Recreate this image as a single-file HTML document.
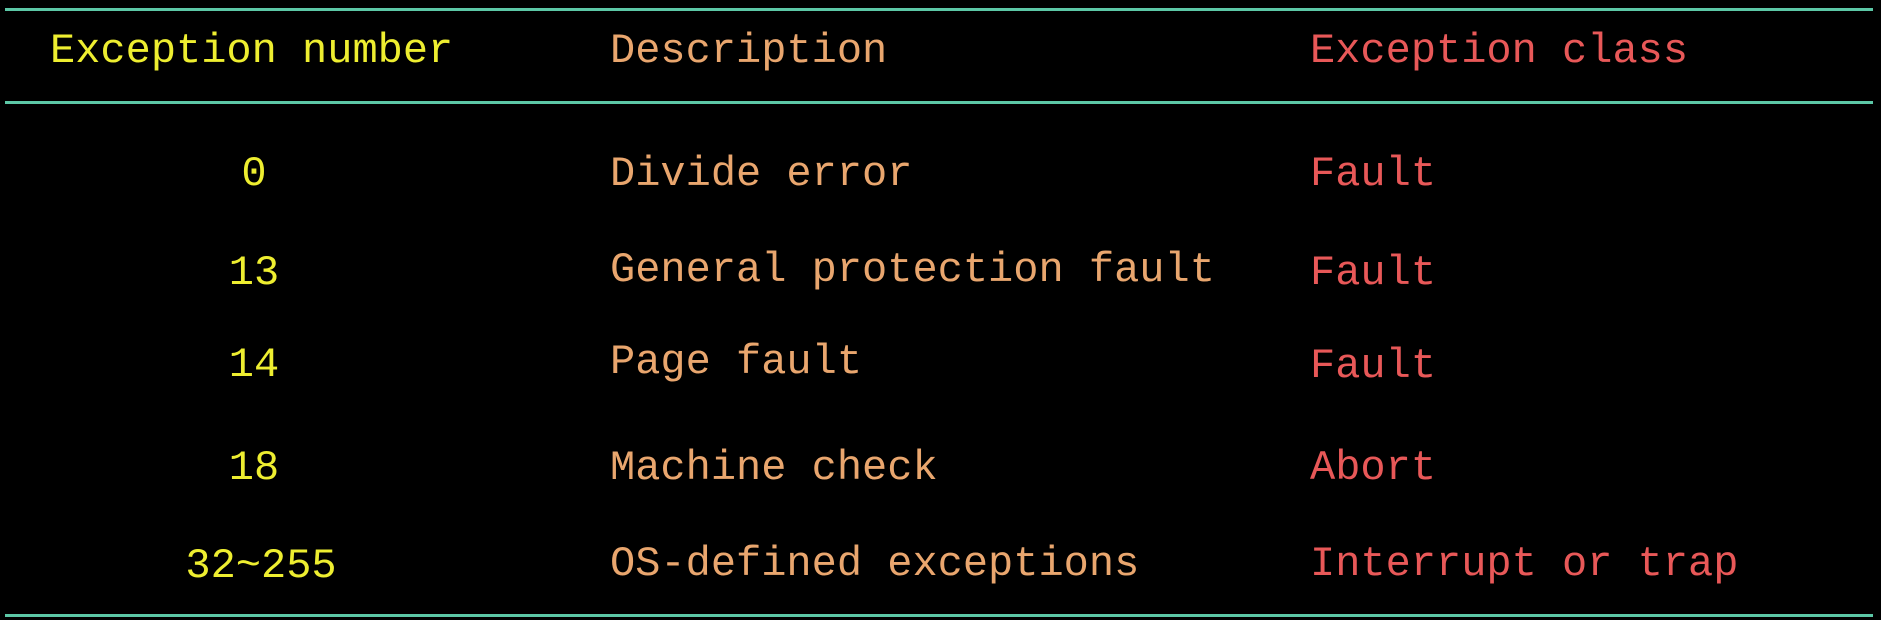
<!DOCTYPE html>
<html><head><style>
body{margin:0;width:1881px;height:620px;background:#000;position:relative;overflow:hidden;font-family:"Liberation Mono",monospace;font-size:42px}
.l{position:absolute;left:5px;width:1868px;height:3px;background:#5cc7a6}
.t{position:absolute;white-space:pre;line-height:1;transform:translateY(-50%)}
.y{color:#eeee30}.o{color:#e9a66e}.r{color:#e85858}
.c{transform:translate(-50%,-50%)}
</style></head><body>
<div class="l" style="top:8px"></div>
<div class="l" style="top:101px"></div>
<div class="l" style="top:614px"></div>
<div class="t y" style="left:50px;top:51px">Exception number</div>
<div class="t o" style="left:610px;top:51px">Description</div>
<div class="t r" style="left:1310px;top:51px">Exception class</div>

<div class="t y c" style="left:254px;top:174px">0</div>
<div class="t o" style="left:610px;top:174px">Divide error</div>
<div class="t r" style="left:1310px;top:174px">Fault</div>

<div class="t y c" style="left:254px;top:273px">13</div>
<div class="t o" style="left:610px;top:270px">General protection fault</div>
<div class="t r" style="left:1310px;top:273px">Fault</div>

<div class="t y c" style="left:254px;top:365px">14</div>
<div class="t o" style="left:610px;top:362px">Page fault</div>
<div class="t r" style="left:1310px;top:366px">Fault</div>

<div class="t y c" style="left:254px;top:468px">18</div>
<div class="t o" style="left:610px;top:468px">Machine check</div>
<div class="t r" style="left:1310px;top:468px">Abort</div>

<div class="t y c" style="left:261px;top:566px">32~255</div>
<div class="t o" style="left:610px;top:564px">OS-defined exceptions</div>
<div class="t r" style="left:1310px;top:564px">Interrupt or trap</div>
</body></html>
